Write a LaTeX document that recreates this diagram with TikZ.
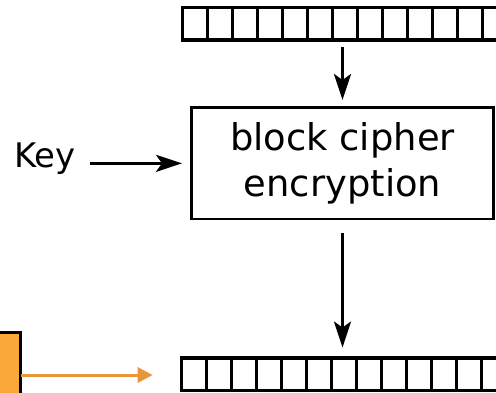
\documentclass[tikz,border=0pt]{standalone}
\usepackage{fontspec}
\setmainfont{DejaVu Sans}
\usetikzlibrary{arrows.meta}
\definecolor{ctrorange}{HTML}{FBA83B}
\definecolor{ctrline}{HTML}{E8963A}

\begin{document}
\begin{tikzpicture}[line cap=butt,line join=miter,x=1bp,y=1bp,>={Stealth[length=26bp,width=17bp,inset=6bp]},
	register/.style={draw,line width=3.2bp,minimum width=325bp,minimum height=32.5bp,inner sep=0pt,outer sep=0pt},
	cipherbox/.style={draw,line width=2.6bp,minimum width=301.6bp,minimum height=111.3bp,inner sep=0pt,outer sep=0pt,align=center,font=\fontsize{37}{46}\selectfont},
	flow/.style={line width=2.8bp,->}]
	\useasboundingbox (0,0) rectangle (496,392);
	\clip (0,0) rectangle (496,392);
	% counter block fed in from the left
	\draw [line width=3.2bp,fill=ctrorange] (-40,-40) rectangle (20.7,59.3);
	\coordinate (ctrout) at (20.7,17);
	% input and output registers
	\node[register] (ctr) at (345,368.25) {};
	\node[register] (out) at (344.2,17.8) {};
	\foreach \i in {1,...,12}{
		\draw [line width=3.2bp] ([xshift=\i*25bp]ctr.north west)-- ([xshift=\i*25bp]ctr.south west);
		\draw [line width=3.2bp] ([xshift=\i*25bp]out.north west)-- ([xshift=\i*25bp]out.south west);
	}
	\node[cipherbox] (enc) at (342.5,228.65) {block cipher\\encryption};
	\node[font=\fontsize{34}{36}\selectfont,anchor=base] (key) at (45,224.7) {Key};
	\draw [flow] (enc.north |- ctr.south) ++(0,-7) -- ([yshift=7.7bp]enc.north);
	\draw [flow] ([yshift=-14bp]enc.south) -- ([yshift=10.4bp]enc.south |- out.north);
	\draw [flow] ([xshift=11bp]key.east |- enc.west) -- ([xshift=-9.7bp]enc.west);
	\draw [line width=3bp,color=ctrline,-{Triangle[length=15bp,width=15bp]}] (ctrout)-- ([xshift=-29bp]ctrout -| out.west);
\end{tikzpicture}
\end{document}
